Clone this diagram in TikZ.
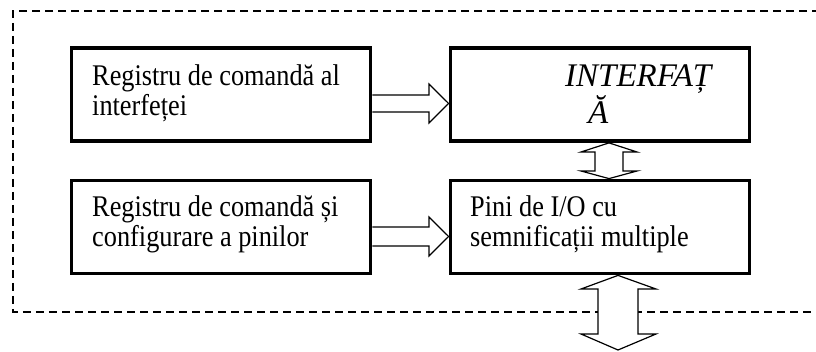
\documentclass[tikz,border=0pt]{standalone}
\usepackage{fontspec}
\setmainfont{Liberation Serif}
\newfontfamily\tallserif[FakeStretch=0.877]{Liberation Serif}
\begin{document}
\begin{tikzpicture}[x=1pt,y=-1pt,
  blk/.style={draw,line width=3.8pt,minimum width=299pt,minimum height=93pt,inner sep=0pt},
  txt/.style={anchor=base west,inner sep=0pt,font=\tallserif\fontsize{30}{34}\selectfont},
  itxt/.style={anchor=base west,inner sep=0pt,font=\itshape\fontsize{33}{38}\selectfont},
  hollow/.style={draw,line width=1.2pt,line join=miter},
  hollowf/.style={hollow,fill=white},
  border/.style={draw,line width=1.4pt,dash pattern=on 8pt off 5pt}]
\useasboundingbox (0,0) rectangle (816,352);
% dashed frame
\coordinate (ftr) at (820,11);
\coordinate (ftl) at (13,11);
\coordinate (fbl) at (13,312);
\coordinate (fbr) at (820,312);
\draw[border] (ftr) -- (ftl) -- (fbl) -- (fbr);
% boxes
\node[blk] (b1) at (221,94.5) {};
\node[blk] (b2) at (600,94.5) {};
\node[blk] (b3) at (221,227) {};
\node[blk] (b4) at (600,227) {};
% texts
\node[txt] (t1a) at (92,86) {Registru de comandă al};
\node[txt] (t1b) at (92,116) {interfeței};
\node[itxt] (t2a) at (565,87) {INTERFAȚ};
\node[itxt] (t2b) at (588,124) {Ă};
\node[txt] (t3a) at (92,217) {Registru de comandă și};
\node[txt] (t3b) at (92,247) {configurare a pinilor};
\node[txt] (t4a) at (470,217) {Pini de I/O cu};
\node[txt] (t4b) at (470,247) {semnificații multiple};
% hollow arrows
\draw[hollow] (b1.east |- 0,95) -- (429,95) -- (429,84) -- (b2.west |- 0,103.5)
  -- (429,123) -- (429,112) -- (b1.east |- 0,112);
\draw[hollow] (b3.east |- 0,227) -- (429,227) -- (429,217) -- (b4.west |- 0,236.5)
  -- (429,256) -- (429,246) -- (b3.east |- 0,246);
\draw[hollow] (b2.south -| 609,0) -- (637,152) -- (623,152) -- (623,171) -- (637,171)
  -- (b4.north -| 609,0) -- (581,171) -- (595,171) -- (595,152) -- (581,152) -- cycle;
\coordinate (out) at (618,350);
\draw[hollowf] (b4.south -| 618,0) -- (656,289) -- (638,289) -- (638,334) -- (656,334)
  -- (out) -- (581,334) -- (598,334) -- (598,289) -- (581,289) -- cycle;
\end{tikzpicture}
\end{document}
